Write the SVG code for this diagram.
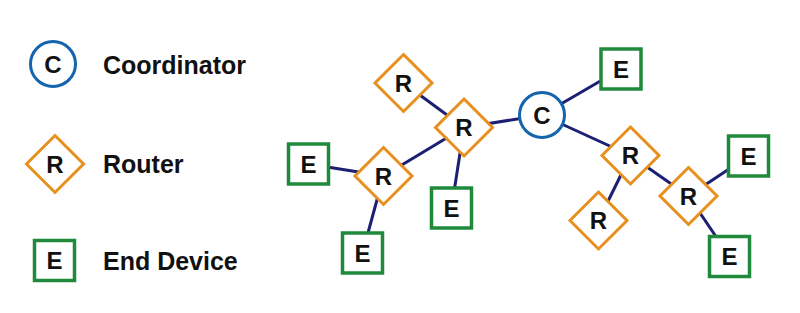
<svg xmlns="http://www.w3.org/2000/svg" width="800" height="313" viewBox="0 0 800 313">
<style>
.c{fill:#fff;stroke:#1464ae;stroke-width:3}
.r{fill:#fff;stroke:#e8901e;stroke-width:3}
.e{fill:#fff;stroke:#1f8a3c;stroke-width:3.5}
.l{font-family:"Liberation Sans",Arial,sans-serif;font-weight:bold;font-size:24px;fill:#111;text-anchor:middle}
.t{font-family:"Liberation Sans",Arial,sans-serif;font-weight:bold;font-size:25px;fill:#111}
#links line{stroke:#1c1f72;stroke-width:3}
</style>
<defs>
<path id="dia" d="M0,-28.5 L28.5,0 L0,28.5 L-28.5,0 Z"/>
</defs>
<rect width="800" height="313" fill="#fff"/>
<g id="legend">
<g id="leg-c"><circle class="c" cx="53" cy="64" r="22.5"/><text class="l" x="53" y="72.5">C</text></g>
<text class="t" x="103" y="74">Coordinator</text>
<g id="leg-r"><use href="#dia" class="r" x="55" y="164"/><text class="l" x="55" y="172.5">R</text></g>
<text class="t" x="103" y="173">Router</text>
<g id="leg-e"><rect class="e" x="34.5" y="240.5" width="40" height="40"/><text class="l" x="54.5" y="269">E</text></g>
<text class="t" x="103" y="270">End Device</text>
</g>
<g id="links">
<line x1="403.5" y1="83" x2="464" y2="127.5"/>
<line x1="464" y1="127.5" x2="542" y2="115"/>
<line x1="464" y1="127.5" x2="383.5" y2="176"/>
<line x1="464" y1="127.5" x2="451.5" y2="208"/>
<line x1="383.5" y1="176" x2="308.5" y2="164"/>
<line x1="383.5" y1="176" x2="362.5" y2="253"/>
<line x1="542" y1="115" x2="621" y2="69"/>
<line x1="542" y1="115" x2="630.5" y2="155.5"/>
<line x1="630.5" y1="155.5" x2="598.5" y2="220.5"/>
<line x1="630.5" y1="155.5" x2="688.5" y2="196"/>
<line x1="688.5" y1="196" x2="748.5" y2="156"/>
<line x1="688.5" y1="196" x2="729.5" y2="256.5"/>
</g>
<g id="coord"><circle class="c" cx="542" cy="115" r="22.5"/><text class="l" x="542" y="123.5">C</text></g>
<g id="r1"><use href="#dia" class="r" x="403.5" y="83"/><text class="l" x="403.5" y="91.5">R</text></g>
<g id="r2"><use href="#dia" class="r" x="464" y="127.5"/><text class="l" x="464" y="136">R</text></g>
<g id="r3"><use href="#dia" class="r" x="383.5" y="176"/><text class="l" x="383.5" y="184.5">R</text></g>
<g id="r4"><use href="#dia" class="r" x="630.5" y="155.5"/><text class="l" x="630.5" y="164">R</text></g>
<g id="r5"><use href="#dia" class="r" x="598.5" y="220.5"/><text class="l" x="598.5" y="229">R</text></g>
<g id="r6"><use href="#dia" class="r" x="688.5" y="196"/><text class="l" x="688.5" y="204.5">R</text></g>
<g id="e1"><rect class="e" x="288.5" y="144" width="40" height="40"/><text class="l" x="308.5" y="172.5">E</text></g>
<g id="e2"><rect class="e" x="431.5" y="188" width="40" height="40"/><text class="l" x="451.5" y="216.5">E</text></g>
<g id="e3"><rect class="e" x="342.5" y="233" width="40" height="40"/><text class="l" x="362.5" y="261.5">E</text></g>
<g id="e4"><rect class="e" x="601" y="49" width="40" height="40"/><text class="l" x="621" y="77.5">E</text></g>
<g id="e5"><rect class="e" x="728.5" y="136" width="40" height="40"/><text class="l" x="748.5" y="164.5">E</text></g>
<g id="e6"><rect class="e" x="709.5" y="236.5" width="40" height="40"/><text class="l" x="729.5" y="265">E</text></g>
</svg>
